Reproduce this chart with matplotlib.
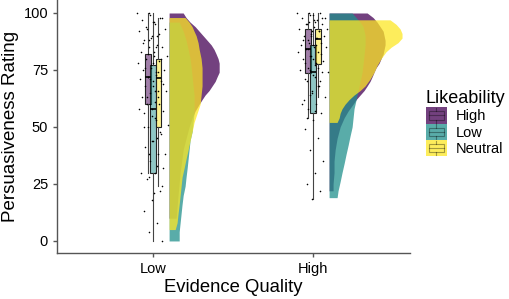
import numpy as np
import matplotlib.pyplot as plt
from matplotlib.colors import to_rgba
from matplotlib.legend_handler import HandlerBase
from matplotlib.patches import Rectangle, Patch
from matplotlib.lines import Line2D

plt.rcParams['font.family'] = ['Liberation Sans', 'DejaVu Sans']

# categories
evidence = ['Low', 'High']
likeability = ['High', 'Low', 'Neutral']
colors = {'High': '#440154', 'Low': '#21908C', 'Neutral': '#FDE725'}

# boxplot stats: (whislo, q1, med, q3, whishi)
box_stats = {
    ('Low', 'High'): (30, 60, 72, 82, 100),
    ('Low', 'Low'): (0, 30, 58, 77, 100),
    ('Low', 'Neutral'): (24, 50, 71.5, 80, 98),
    ('High', 'High'): (54, 73.5, 84, 93, 100),
    ('High', 'Low'): (18.5, 56, 74, 86, 100),
    ('High', 'Neutral'): (63, 77.5, 88.5, 93, 100),
}

# raw ratings (jittered dots)
points = {
    ('Low', 'High'): [100, 99, 97, 95, 93, 92, 90, 88, 86, 85, 83, 81, 80, 78, 76, 75, 74,
                      72, 71, 70, 68, 66, 65, 63, 61, 60, 58, 55, 50, 45, 38, 30],
    ('Low', 'Low'): [100, 98, 96, 94, 91, 89, 87, 85, 82, 80, 78, 76, 74, 71, 69, 66, 63, 60,
                     58, 56, 53, 50, 47, 44, 41, 38, 35, 32, 30, 27, 22, 18, 13, 8, 4, 0],
    ('Low', 'Neutral'): [98, 96, 93, 90, 88, 85, 83, 81, 79, 77, 75, 73, 72, 70, 68, 66, 63,
                         60, 57, 54, 51, 48, 44, 38, 33, 28, 24, 21],
    ('High', 'High'): [100, 99, 98, 96, 95, 93, 92, 90, 89, 87, 86, 85, 84, 83, 81, 80, 78,
                       76, 75, 73, 71, 68, 64, 60, 57, 54],
    ('High', 'Low'): [100, 98, 97, 95, 92, 90, 88, 86, 84, 82, 80, 78, 76, 75, 74, 72, 70, 68,
                      65, 62, 60, 58, 56, 53, 49, 45, 40, 35, 30, 25, 22, 18.5],
    ('High', 'Neutral'): [100, 99, 98, 97, 96, 95, 94, 93, 92, 91, 90, 89, 88, 87, 86, 85, 83,
                          81, 79, 77, 74, 70, 66, 63],
}

# half-violin profiles: rating levels and density widths (x units)
violin_y = {
    ('Low', 'High'): [100, 98, 96, 94, 92, 90, 88, 86, 84, 82, 80, 78, 76, 74, 72, 70, 68, 66,
                      64, 62, 60, 57, 54, 50, 45, 40, 30, 20, 10],
    ('Low', 'Low'): [96, 92, 88, 84, 80, 76, 72, 68, 64, 60, 56, 52, 48, 44, 40, 36, 32, 28,
                     24, 20, 16, 12, 8, 4, 0],
    ('Low', 'Neutral'): [98, 96, 94, 92, 90, 87, 84, 80, 76, 72, 68, 64, 60, 56, 52, 48, 44,
                         40, 36, 32, 28, 24, 20, 16, 12, 8, 5],
    ('High', 'High'): [100, 98, 96, 94, 92, 90, 88, 86, 84, 82, 80, 78, 76, 74, 72, 70, 68,
                       66, 64, 62, 60, 57, 54, 50, 45, 40, 35, 30, 25, 22],
    ('High', 'Low'): [100, 98, 96, 94, 92, 90, 86, 82, 78, 74, 70, 66, 62, 58, 54, 50, 46,
                      42, 38, 34, 30, 26, 22, 19],
    ('High', 'Neutral'): [97, 95, 93, 91, 89, 87, 85, 83, 80, 77, 74, 71, 68, 66, 64, 62, 60,
                          58, 56, 54, 52],
}
violin_w = {
    ('Low', 'High'): [.088, .106, .131, .163, .188, .213, .238, .263, .281, .294, .306, .313,
                      .313, .313, .300, .288, .269, .250, .225, .206, .188, .163, .144, .125,
                      .106, .088, .069, .056, .044],
    ('Low', 'Low'): [.063, .088, .106, .119, .131, .138, .144, .150, .156, .156, .156, .150,
                     .144, .131, .125, .119, .113, .106, .100, .088, .081, .075, .069, .063,
                     .063],
    ('Low', 'Neutral'): [.100, .125, .144, .156, .169, .181, .188, .200, .206, .206, .206,
                         .200, .194, .175, .156, .144, .131, .119, .106, .094, .081, .075,
                         .069, .063, .056, .050, .038],
    ('High', 'High'): [.238, .275, .300, .319, .338, .344, .350, .350, .344, .338, .325, .313,
                       .294, .281, .269, .256, .238, .219, .194, .169, .150, .119, .094, .069,
                       .050, .038, .031, .031, .025, .025],
    ('High', 'Low'): [.144, .169, .194, .213, .219, .225, .225, .219, .213, .206, .194, .181,
                      .169, .156, .150, .144, .131, .119, .106, .094, .081, .069, .056, .050],
    ('High', 'Neutral'): [.381, .419, .444, .456, .456, .431, .388, .356, .325, .300, .281,
                          .256, .225, .194, .156, .125, .100, .081, .069, .063, .050],
}

fig = plt.figure(figsize=(5.1, 2.99), dpi=100)
ax = fig.add_axes([0.112, 0.154, 0.692, 0.846])

dodge = 0.033
violin_gap = 0.10
for i, ev in enumerate(evidence):
    xc = i + 1
    # violins
    for lk in likeability:
        y = np.array(violin_y[(ev, lk)])
        w = np.array(violin_w[(ev, lk)])
        x0 = xc + violin_gap
        ax.fill_betweenx(y, x0, x0 + w, color=colors[lk], alpha=0.75, lw=0, zorder=2)
    # boxes and dots
    for j, lk in enumerate(likeability):
        pos = xc + (j - 1) * dodge
        lo, q1, med, q3, hi = box_stats[(ev, lk)]
        st = [dict(whislo=lo, q1=q1, med=med, q3=q3, whishi=hi)]
        ax.bxp(st, positions=[pos], widths=0.036, patch_artist=True, showfliers=False,
               showcaps=False,
               boxprops=dict(facecolor=to_rgba(colors[lk], 0.5), edgecolor='#222222',
                             lw=0.8),
               whiskerprops=dict(color='#444444', lw=0.8),
               medianprops=dict(color='black', lw=1.2), manage_ticks=False, zorder=3)
        vals = np.array(points[(ev, lk)])
        n = len(vals)
        jit = ((np.arange(n) * 0.618 + j * 0.3) % 1 - 0.5) * 0.13
        ax.scatter(pos + jit, vals, s=1.3, color='black', lw=0, zorder=4)

ax.set_xlim(0.4, 2.606)
ax.set_ylim(-5.26, 105.7)
ax.set_xticks([1, 2])
ax.set_xticklabels(evidence)
ax.set_yticks([0, 25, 50, 75, 100])
for s in ['top', 'right']:
    ax.spines[s].set_visible(False)
for s in ['left', 'bottom']:
    ax.spines[s].set_color('#555555')
    ax.spines[s].set_linewidth(1.0)
ax.tick_params(colors='#555555', labelcolor='black', labelsize=10.5, length=3, width=1.0)
ax.set_xlabel('Evidence Quality', fontsize=13.3, labelpad=2)
ax.set_ylabel('Persuasiveness Rating', fontsize=13.5, labelpad=3)


class BoxKey(HandlerBase):
    def create_artists(self, legend, orig_handle, xdescent, ydescent, width, height,
                       fontsize, trans):
        c = orig_handle.get_facecolor()
        x0, y0 = -xdescent, -ydescent
        edge = (0, 0, 0, 0.35)
        bg = Rectangle((x0, y0), width, height, facecolor=c, edgecolor='none',
                       transform=trans)
        box = Rectangle((x0 + width * 0.15, y0 + height * 0.25), width * 0.7, height * 0.5,
                        facecolor='none', edgecolor=edge, lw=0.8, transform=trans)
        med = Line2D([x0 + width * 0.15, x0 + width * 0.85], [y0 + height * 0.5] * 2,
                     color=edge, lw=0.8, transform=trans)
        w1 = Line2D([x0 + width / 2] * 2, [y0 + height * 0.05, y0 + height * 0.25],
                    color=edge, lw=0.8, transform=trans)
        w2 = Line2D([x0 + width / 2] * 2, [y0 + height * 0.75, y0 + height * 0.95],
                    color=edge, lw=0.8, transform=trans)
        return [bg, box, med, w1, w2]


handles = [Patch(facecolor=to_rgba(colors[lk], 0.75)) for lk in likeability]
leg = fig.legend(handles, likeability, loc='upper left', bbox_to_anchor=(0.835, 0.698),
                 frameon=False, fontsize=10.5, title='Likeability', title_fontsize=13,
                 handlelength=1.44, handleheight=1.34, labelspacing=0.0, handletextpad=0.6,
                 borderpad=0, borderaxespad=0, alignment='left',
                 handler_map={Patch: BoxKey()})

plt.savefig('out.png', dpi=100)
